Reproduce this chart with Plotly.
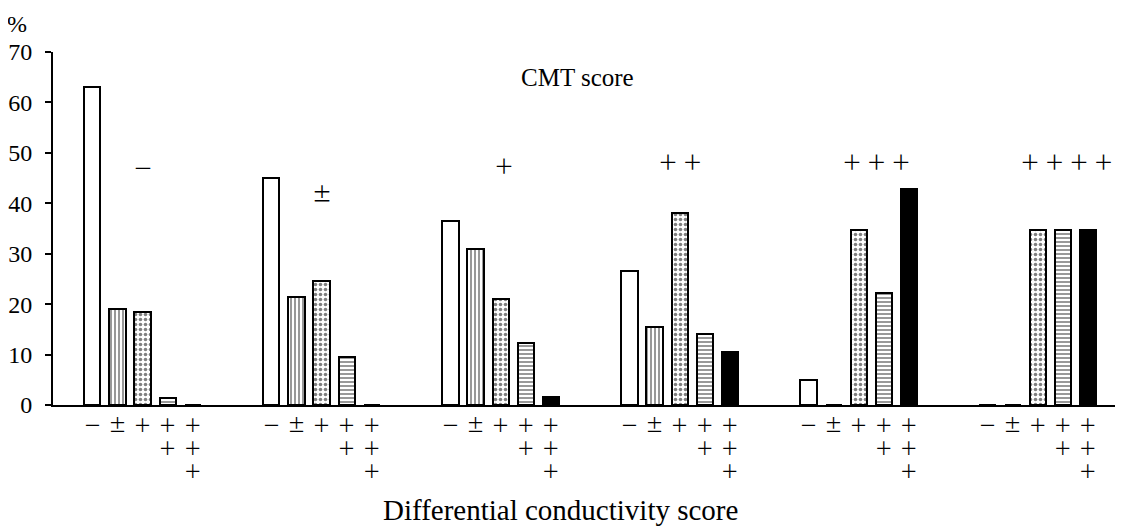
import plotly.graph_objects as go

# CMT score groups and differential conductivity score classes
cmt_groups = ["－", "±", "＋", "＋ ＋", "＋ ＋ ＋", "＋ ＋ ＋ ＋"]
dc_classes = ["－", "±", "＋", "＋<br>＋", "＋<br>＋<br>＋"]

# percentages per differential conductivity class (one list per class, across CMT groups)
dc_minus = [63, 45, 36.5, 26.5, 5, 0]
dc_pm = [19, 21.5, 31, 15.5, 0, 0]
dc_plus = [18.5, 24.5, 21, 38, 34.8, 34.8]
dc_2plus = [1.3, 9.5, 12.3, 14, 22.3, 34.8]
dc_3plus = [0, 0, 1.5, 10.5, 42.8, 34.8]

# heights of the CMT labels above each group
cmt_label_y = [47, 42, 47.5, 48.3, 48.3, 48.3]
cmt_label_dx = [0, 0, 0.02, 0, 0.1, 0.16]

series = [dc_minus, dc_pm, dc_plus, dc_2plus, dc_3plus]
styles = [
    dict(color="white", pattern=dict(shape="")),
    dict(color="white", pattern=dict(shape="|", fgcolor="black", bgcolor="white", size=4, solidity=0.4)),
    dict(color="white", pattern=dict(shape=".", fgcolor="black", bgcolor="white", size=5, solidity=0.4)),
    dict(color="white", pattern=dict(shape="-", fgcolor="black", bgcolor="white", size=4, solidity=0.4)),
    dict(color="black", pattern=dict(shape="")),
]

step = 0.14
width = 0.09
serif = "Liberation Serif, Times New Roman, serif"
sym = "Noto Sans CJK JP, Liberation Serif, serif"

fig = go.Figure()
tickvals, ticktext = [], []
for k, (vals, st) in enumerate(zip(series, styles)):
    xs = [g + (k - 2) * step for g in range(len(cmt_groups))]
    tickvals += xs
    ticktext += [dc_classes[k]] * len(xs)
    fig.add_trace(go.Bar(
        x=xs, y=vals, width=width,
        marker=dict(color=st["color"], pattern=st["pattern"],
                    line=dict(color="black", width=2)),
        showlegend=False,
    ))

for g, (lab, ly, dx) in enumerate(zip(cmt_groups, cmt_label_y, cmt_label_dx)):
    fig.add_annotation(x=g + dx, y=ly, text=lab, showarrow=False,
                       font=dict(size=20, family=sym, color="black"))

fig.add_annotation(x=2.43, y=65, text="CMT score", showarrow=False,
                   font=dict(size=25, family=serif, color="black"))
fig.add_annotation(xref="paper", yref="paper", x=0, y=1, xanchor="right", yanchor="middle",
                   xshift=-24, yshift=28, text="%", showarrow=False,
                   font=dict(size=24, family=serif, color="black"))
fig.add_annotation(xref="paper", yref="paper", x=0.476, y=-0.297, yanchor="middle",
                   text="Differential conductivity score", showarrow=False,
                   font=dict(size=29, family=serif, color="black"))

fig.update_layout(
    width=1115, height=521,
    margin=dict(l=45, r=3, t=44, b=124, autoexpand=False),
    plot_bgcolor="white", paper_bgcolor="white",
    font=dict(family=serif, color="black", size=20),
    bargap=0,
)
fig.update_xaxes(range=[-0.5, 5.46], showline=True, linewidth=2, linecolor="black",
                 tickmode="array", tickvals=tickvals, ticktext=ticktext,
                 ticks="", showgrid=False, zeroline=False, automargin=False,
                 ticklabelstandoff=3,
                 tickfont=dict(size=18, family=sym))
fig.update_yaxes(range=[0, 70], dtick=10, showline=True, linewidth=2, linecolor="black",
                 ticks="outside", ticklen=6, tickwidth=2, tickcolor="black",
                 showgrid=False, zeroline=False, automargin=False,
                 ticklabelstandoff=8,
                 tickfont=dict(size=24, family=serif))

fig.write_html("out.html")
